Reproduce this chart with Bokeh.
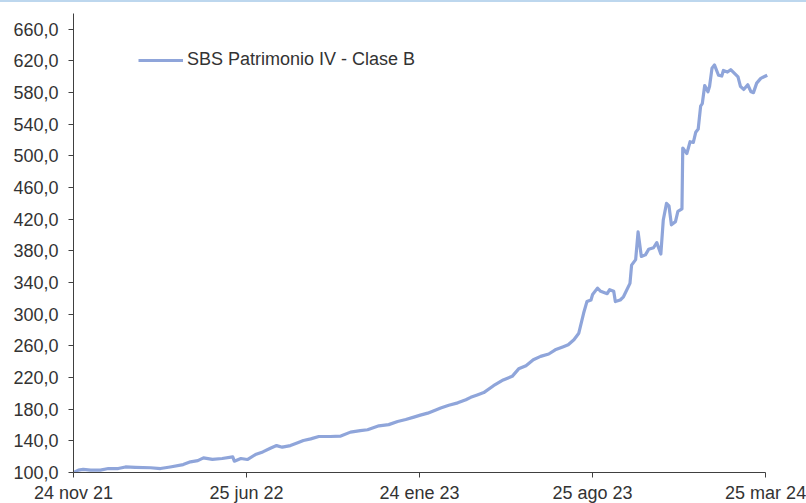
from bokeh.plotting import figure
from bokeh.models import FixedTicker, Range1d, Legend, LegendItem
from bokeh.embed import file_html
from bokeh.resources import INLINE

# days since 24 nov 2021
days = [0, 6, 12, 21, 33, 43, 55, 64, 76, 95, 107, 119, 135, 144, 153, 160, 171, 183,
        196, 198, 206, 214, 224, 233, 243, 250, 257, 267, 276, 283, 292, 302, 316, 329,
        341, 353, 362, 376, 388, 399, 409, 419, 427, 436, 446, 452, 462, 473, 483, 489,
        497, 505, 517, 529, 540, 548, 557, 566, 575, 585, 593, 603, 609, 616, 622, 628,
        632, 637, 639, 645, 649, 657, 660, 665, 667, 673, 677, 685, 687, 692, 695, 699,
        704, 708, 714, 718, 723, 726, 730, 733, 736, 741, 744, 749, 750, 755, 759, 763,
        766, 769, 772, 774, 777, 781, 783, 786, 789, 794, 798, 800, 805, 809, 814, 818,
        821, 825, 830, 834, 837, 841, 846, 850, 852, 854]
values = [100, 103, 104, 103, 103, 105, 105, 107, 106.5, 106, 105, 107, 110, 113.5, 115,
          118.5, 116.5, 117.7, 119.8, 114.3, 117.7, 116.4, 122.7, 126, 131, 134, 132, 134,
          137.5, 140.4, 142.5, 145.5, 145.5, 146, 151, 153, 154, 159, 160.5, 164.5, 167,
          170, 172.5, 175, 179, 181.5, 185, 188, 192, 195, 198, 201, 209.7, 217, 221.5,
          231, 235, 242.5, 246.7, 249.7, 255, 259, 261.5, 267.8, 276, 301.5, 316, 318, 325,
          333, 329, 326, 331, 329, 316, 318, 322, 339, 362, 369, 404, 373, 375, 382, 384,
          390.5, 376, 419, 440, 437, 413, 417, 430, 433, 510, 503, 518, 517, 530, 534, 563,
          566, 589, 581, 588, 611, 615, 602, 601, 608, 606, 609, 604, 600, 588, 584, 590,
          581, 580, 592, 598, 600, 601, 602]

series_name = "SBS Patrimonio IV - Clase B"
x_tick_days = [0, 213, 426, 639, 852]
x_tick_labels = ["24 nov 21", "25 jun 22", "24 ene 23", "25 ago 23", "25 mar 24"]
y_ticks = [100, 140, 180, 220, 260, 300, 340, 380, 420, 460, 500, 540, 580, 620, 660]
y_tick_labels = [f"{v},0" for v in y_ticks]

FONT = "Liberation Sans"
TXT = "#333333"
LINE = "#8FA5DA"

p = figure(width=806, height=503, output_backend="svg", toolbar_location=None,
           x_range=Range1d(0, 858), y_range=Range1d(100, 680),
           min_border_left=73, min_border_right=36, min_border_top=11,
           min_border_bottom=30)
p.styles = {"border-top": "2px solid #BDD7EE"}
p.outline_line_color = None
p.grid.visible = False
p.background_fill_color = "white"
p.border_fill_color = "white"

r = p.line(days, values, line_color=LINE, line_width=3.2, line_join="round")

for ax in (p.xaxis[0], p.yaxis[0]):
    ax.axis_line_color = "#404040"
    ax.major_tick_line_color = "#404040"
    ax.minor_tick_line_color = None
    ax.major_tick_in = 0
    ax.major_tick_out = 5
    ax.major_label_text_font = FONT
    ax.major_label_text_font_size = "18px"
    ax.major_label_text_color = TXT

p.xaxis.ticker = FixedTicker(ticks=x_tick_days)
p.xaxis.major_label_overrides = dict(zip(x_tick_days, x_tick_labels))
p.xaxis.bounds = (0, 852)
p.xaxis.major_label_standoff = 5

p.yaxis.ticker = FixedTicker(ticks=y_ticks)
p.yaxis.major_label_overrides = dict(zip(y_ticks, y_tick_labels))
p.yaxis.major_label_standoff = 10

legend = Legend(items=[LegendItem(label=series_name, renderers=[r])],
                location=(65, 402), padding=0, margin=0, spacing=0,
                glyph_width=45, glyph_height=20, label_standoff=4,
                label_text_font=FONT, label_text_font_size="18px",
                label_text_color=TXT, background_fill_alpha=0,
                border_line_color=None)
p.add_layout(legend)

open("out.html", "w").write(file_html(p, INLINE))
